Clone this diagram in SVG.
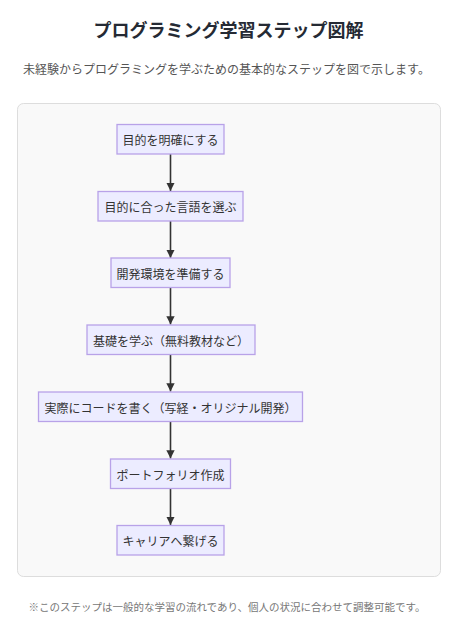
<svg xmlns="http://www.w3.org/2000/svg" width="457" height="635" viewBox="0 0 457 635">
<style>
text{font-family:"Noto Sans CJK JP","Noto Sans",sans-serif}
.title{font-size:18px;font-weight:bold;fill:#252a34;text-anchor:middle}
.sub{font-size:12px;fill:#555;text-anchor:middle}
.foot{font-size:10.5px;fill:#777;text-anchor:middle}
.node rect{fill:#ececff;stroke:#b8a2e8;stroke-width:1.3}
.node text{font-size:12px;fill:#333;text-anchor:middle;dominant-baseline:central}
.edge{stroke:#333;stroke-width:1.6;fill:none}
</style>
<defs>
<marker id="ah" viewBox="0 0 10 10" refX="10" refY="5" markerWidth="5.2" markerHeight="5.2" markerUnits="strokeWidth" orient="auto">
<path d="M0,0 L10,5 L0,10 z" fill="#333"/>
</marker>
</defs>
<rect width="457" height="635" fill="#ffffff"/>
<text class="title" x="228.5" y="37">プログラミング学習ステップ図解</text>
<text class="sub" x="226.5" y="74">未経験からプログラミングを学ぶための基本的なステップを図で示します。</text>
<rect x="17.5" y="103.5" width="423" height="473" rx="6" fill="#f9f9f9" stroke="#dddddd"/>
<g id="connectors">
<line class="edge" x1="170.5" y1="154" x2="170.5" y2="191" marker-end="url(#ah)"/>
<line class="edge" x1="170.5" y1="221" x2="170.5" y2="258" marker-end="url(#ah)"/>
<line class="edge" x1="170.5" y1="287" x2="170.5" y2="324.5" marker-end="url(#ah)"/>
<line class="edge" x1="170.5" y1="354" x2="170.5" y2="391.5" marker-end="url(#ah)"/>
<line class="edge" x1="170.5" y1="421" x2="170.5" y2="458.5" marker-end="url(#ah)"/>
<line class="edge" x1="170.5" y1="488" x2="170.5" y2="525" marker-end="url(#ah)"/>
</g>
<g id="n1" class="node"><rect x="117" y="124.5" width="107" height="29.5"/><text x="170.5" y="139.5">目的を明確にする</text></g>
<g id="n2" class="node"><rect x="98" y="191.5" width="145" height="29.5"/><text x="170.5" y="206.5">目的に合った言語を選ぶ</text></g>
<g id="n3" class="node"><rect x="111" y="258" width="119" height="29.5"/><text x="170.5" y="273">開発環境を準備する</text></g>
<g id="n4" class="node"><rect x="87" y="325" width="168" height="29.5"/><text x="171" y="340">基礎を学ぶ（無料教材など）</text></g>
<g id="n5" class="node"><rect x="38.5" y="392" width="264" height="29.5"/><text x="170.5" y="407">実際にコードを書く（写経・オリジナル開発）</text></g>
<g id="n6" class="node"><rect x="110.5" y="459" width="120" height="29.5"/><text x="170.5" y="474">ポートフォリオ作成</text></g>
<g id="n7" class="node"><rect x="117" y="525.5" width="107" height="29.5"/><text x="170.5" y="540.5">キャリアへ繋げる</text></g>
<text class="foot" x="227" y="611">※このステップは一般的な学習の流れであり、個人の状況に合わせて調整可能です。</text>
</svg>
